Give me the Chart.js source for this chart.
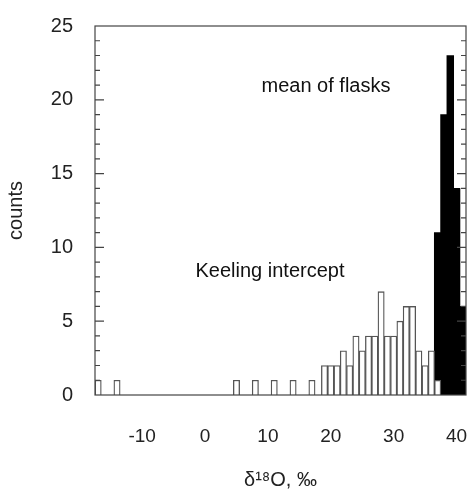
<!DOCTYPE html>
<html>
<head>
<meta charset="utf-8">
<script src="https://cdn.jsdelivr.net/npm/chart.js@4"></script>
<style>
  body { margin: 0; background: #fff; }
  #wrap { width: 467px; height: 496px; }
</style>
</head>
<body>
<div id="wrap"><canvas id="myChart" width="467" height="496"></canvas></div>
<script>
// bin centres (per mil) and counts
const keelingBins = [-17, -14, 5, 8, 11, 14, 17, 19, 20, 21, 22, 23, 24, 25, 26, 27, 28, 29, 30, 31, 32, 33, 34, 35, 36, 37];
const keelingCounts = [1, 1, 1, 1, 1, 1, 1, 2, 2, 2, 3, 2, 4, 3, 4, 4, 7, 4, 4, 5, 6, 6, 3, 2, 3, 1];
const flaskBins = [37, 38, 39, 40, 41];
const flaskCounts = [11, 19, 23, 14, 6];
const xTicks = [-10, 0, 10, 20, 30, 40];
const yTicks = [0, 5, 10, 15, 20, 25];

const FONT = 'Liberation Sans, Arial, sans-serif';

const frame = {
    id: 'frame',
    afterDraw(chart) {
        const ctx = chart.ctx, a = chart.chartArea, y = chart.scales.y;
        ctx.save();
        ctx.strokeStyle = '#444';
        ctx.lineWidth = 1.2;
        ctx.strokeRect(a.left, a.top, a.right - a.left, a.bottom - a.top);
        ctx.beginPath();
        for (let v = 1; v < 25; v++) {
            const py = y.getPixelForValue(v);
            const len = v % 5 === 0 ? 9 : 5;
            ctx.moveTo(a.left, py); ctx.lineTo(a.left + len, py);
            ctx.moveTo(a.right, py); ctx.lineTo(a.right - len, py);
        }
        ctx.stroke();
        ctx.fillStyle = '#111';
        ctx.font = '20px ' + FONT;
        ctx.textAlign = 'center';
        ctx.textBaseline = 'middle';
        ctx.fillText('mean of flasks', 326, 86);
        ctx.fillText('Keeling intercept', 270, 271);
        ctx.restore();
    }
};

new Chart(document.getElementById('myChart'), {
    type: 'bar',
    data: {
        datasets: [{
            label: 'Keeling intercept',
            data: keelingBins.map((x, i) => ({ x: x, y: keelingCounts[i] })),
            backgroundColor: '#fff',
            borderColor: '#555',
            borderWidth: 1.3,
            barThickness: 6.3,
            grouped: false,
            order: 0
        }, {
            label: 'mean of flasks',
            data: flaskBins.map((x, i) => ({ x: x, y: flaskCounts[i] })),
            backgroundColor: '#000',
            borderColor: '#000',
            borderWidth: 0,
            barThickness: 6.8,
            grouped: false,
            order: 1
        }]
    },
    options: {
        responsive: false,
        animation: false,
        layout: { padding: { top: 19, right: 1 } },
        plugins: { legend: { display: false }, tooltip: { enabled: false } },
        scales: {
            x: {
                type: 'linear',
                offset: false,
                min: -17.5,
                max: 41.5,
                afterBuildTicks: s => { s.ticks = xTicks.map(v => ({ value: v })); },
                afterFit: s => { s.height = 101; s.paddingLeft = 0; s.paddingRight = 0; },
                grid: { display: false, offset: false },
                border: { display: false },
                ticks: { color: '#222', font: { family: FONT, size: 19 }, padding: 22, maxRotation: 0 },
                title: { display: true, text: 'δ¹⁸O, ‰', color: '#222', font: { family: FONT, size: 20 }, padding: { top: 18 } }
            },
            y: {
                min: 0,
                max: 25,
                afterBuildTicks: s => { s.ticks = yTicks.map(v => ({ value: v })); },
                afterFit: s => { s.width = 95; },
                grid: { display: false },
                border: { display: false },
                ticks: { color: '#222', font: { family: FONT, size: 20 }, padding: 14 },
                title: { display: true, text: 'counts', color: '#222', font: { family: FONT, size: 20 }, padding: 4 }
            }
        }
    },
    plugins: [frame]
});
</script>
</body>
</html>
